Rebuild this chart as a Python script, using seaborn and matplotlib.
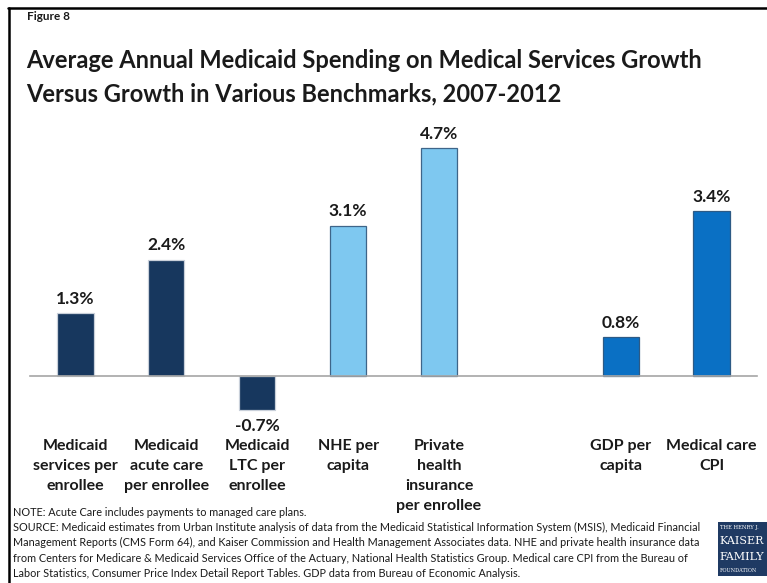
import matplotlib
matplotlib.use("Agg")
import matplotlib.pyplot as plt
from matplotlib.patches import Rectangle
from matplotlib.lines import Line2D
import seaborn as sns
import pandas as pd

# Chart data
categories = [
    "Medicaid\nservices per\nenrollee",
    "Medicaid\nacute care\nper enrollee",
    "Medicaid\nLTC per\nenrollee",
    "NHE per\ncapita",
    "Private\nhealth\ninsurance\nper enrollee",
    " ",
    "GDP per\ncapita",
    "Medical care\nCPI",
]
values = [1.3, 2.4, -0.7, 3.1, 4.7, None, 0.8, 3.4]
value_labels = ["1.3%", "2.4%", "-0.7%", "3.1%", "4.7%", "", "0.8%", "3.4%"]
bar_colors = ["#17375E", "#17375E", "#17375E", "#7EC8F0", "#7EC8F0",
              "#FFFFFF", "#0A70C4", "#0A70C4"]
edge_colors = ["#C9D0DA", "#C9D0DA", "#C9D0DA", "#3E6589", "#3E6589",
               "#FFFFFF", "#2D5A85", "#2D5A85"]

title = ("Average Annual Medicaid Spending on Medical Services Growth\n"
         "Versus Growth in Various Benchmarks, 2007-2012")
note_lines = [
    "NOTE: Acute Care includes payments to managed care plans.",
    "SOURCE: Medicaid estimates from Urban Institute analysis of data from the Medicaid Statistical Information System (MSIS), Medicaid Financial",
    "Management Reports (CMS Form 64), and Kaiser Commission and Health Management Associates data. NHE and private health insurance data",
    "from Centers for Medicare & Medicaid Services Office of the Actuary, National Health Statistics Group. Medical care CPI from the Bureau of",
    "Labor Statistics, Consumer Price Index Detail Report Tables. GDP data from Bureau of Economic Analysis.",
]

sns.set_theme(style="white")
plt.rcParams["font.family"] = ["Lato", "DejaVu Sans"]

W, H = 767, 583
fig = plt.figure(figsize=(W / 100, H / 100), dpi=100)
fig.patch.set_facecolor("white")

def fx(px):
    return px / W

def fy(py):
    return 1 - py / H

# axes area: x 30..757 px, y 120..420 px
ax = fig.add_axes([fx(30), fy(420), fx(727), (420 - 120) / H])

df = pd.DataFrame({"category": categories, "value": values})
df_plot = df.dropna()
palette = dict(zip(categories, bar_colors))
sns.barplot(data=df_plot, x="category", y="value", hue="category",
            order=categories, hue_order=categories, palette=palette,
            width=0.4, legend=False, ax=ax, saturation=1)

for patch in ax.patches:
    cx = patch.get_x() + patch.get_width() / 2
    idx = int(round(cx))
    patch.set_edgecolor(edge_colors[idx])
    patch.set_linewidth(0.9)

ax.set_xlim(-0.5, len(categories) - 0.5)
ax.set_ylim(-0.907, 5.278)
ax.set_xlabel("")
ax.set_ylabel("")
ax.set_yticks([])

for s in ["top", "right", "left"]:
    ax.spines[s].set_visible(False)
ax.spines["bottom"].set_position(("data", 0))
ax.spines["bottom"].set_color("#A6A6A6")
ax.spines["bottom"].set_linewidth(1.2)

ax.set_xticks(range(len(categories)))
ax.set_xticklabels(categories, fontsize=11.5, fontweight="bold",
                   color="#1A1A1A", linespacing=1.55)
ax.tick_params(axis="x", which="major", length=0, pad=45)
ax.set_xticks([i - 0.5 for i in range(len(categories) + 1)], minor=True)
ax.tick_params(axis="x", which="minor", length=5, width=1.0,
               color="#A6A6A6", direction="out")

for i, (v, lab) in enumerate(zip(values, value_labels)):
    if v is None:
        continue
    if v >= 0:
        ax.annotate(lab, (i, v), xytext=(0, 4.5), textcoords="offset points",
                    ha="center", va="bottom", fontsize=12.5, fontweight="bold",
                    color="#1A1A1A")
    else:
        ax.annotate(lab, (i, v), xytext=(0, -6), textcoords="offset points",
                    ha="center", va="top", fontsize=12.5, fontweight="bold",
                    color="#1A1A1A")

# Headings
fig.text(fx(27), fy(16), "Figure 8", fontsize=8.5, fontweight="bold",
         va="center", ha="left", color="#1A1A1A")
fig.text(fx(26), fy(77), title, fontsize=17, fontweight="bold",
         va="center", ha="left", color="#1A1A1A", linespacing=1.55)

# Notes
for k, line in enumerate(note_lines):
    fig.text(fx(13), fy(512 + 15.4 * k), line, fontsize=7.85, va="center",
             ha="left", color="#1A1A1A")

# Foundation badge
badge = Rectangle((fx(718), fy(576)), fx(60), (576 - 522) / H,
                  transform=fig.transFigure, facecolor="#1F3A63",
                  edgecolor="none")
fig.patches.append(badge)
fig.text(fx(720), fy(528), "THE HENRY J.", fontsize=3.8, color="white",
         family=["DejaVu Serif"], va="center", ha="left")
fig.text(fx(719), fy(541), "KAISER", fontsize=8.0, color="white",
         family=["DejaVu Serif"], va="center", ha="left")
fig.text(fx(719), fy(557), "FAMILY", fontsize=8.0, color="white",
         family=["DejaVu Serif"], va="center", ha="left")
fig.text(fx(720), fy(570), "FOUNDATION", fontsize=3.6, color="white",
         family=["DejaVu Serif"], va="center", ha="left")

# Frame lines along left and top edges
fig.lines.append(Line2D([fx(9), fx(9)], [fy(8), 0], transform=fig.transFigure,
                        color="black", linewidth=1.8))
fig.lines.append(Line2D([fx(8), 1], [fy(8), fy(8)], transform=fig.transFigure,
                        color="black", linewidth=1.8))

fig.savefig("out.png", dpi=100, facecolor="white")
